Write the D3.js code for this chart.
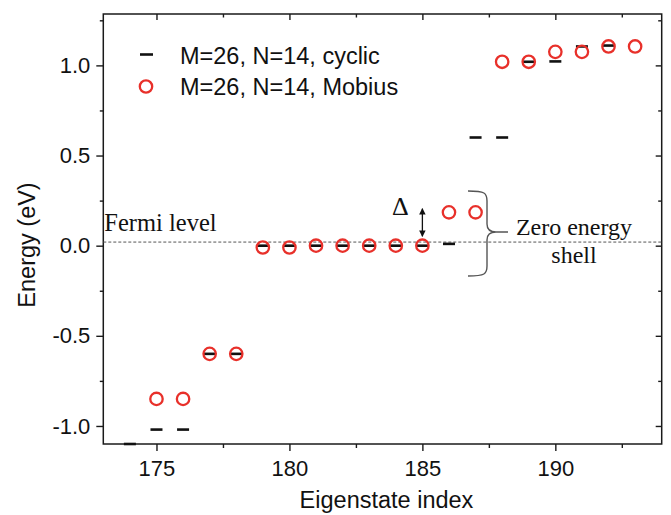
<!DOCTYPE html>
<html>
<head>
<meta charset="utf-8">
<script src="https://cdn.jsdelivr.net/npm/d3@7/dist/d3.min.js"></script>
<style>
  html, body { margin: 0; padding: 0; background: #fff; }
  svg { display: block; }
  .sans { font-family: "Liberation Sans", Arial, Helvetica, sans-serif; }
  .serif { font-family: "Liberation Serif", "Times New Roman", serif; }
</style>
</head>
<body>
<svg id="chart" width="671" height="515"></svg>
<script>
// Eigenstate energies around the Fermi level (eV)
const cyclicIndex  = [174, 175, 176, 177, 178, 179, 180, 181, 182, 183, 184, 185, 186, 187, 188, 189, 190, 191, 192];
const cyclicEnergy = [-1.10, -1.02, -1.02, -0.60, -0.60, 0.00, 0.00, 0.00, 0.00, 0.00, 0.00, 0.00, 0.01, 0.60, 0.60, 1.02, 1.022, 1.105, 1.11];

const mobiusIndex  = [175, 176, 177, 178, 179, 180, 181, 182, 183, 184, 185, 186, 187, 188, 189, 190, 191, 192, 193];
const mobiusEnergy = [-0.85, -0.85, -0.60, -0.60, -0.01, -0.01, 0.00, 0.00, 0.00, 0.00, 0.00, 0.185, 0.185, 1.02, 1.02, 1.075, 1.075, 1.105, 1.105];

const xMajorTicks = [175, 180, 185, 190];
const xMinorTicks = [177.5, 182.5, 187.5, 192.5];
const yMajorTicks = [-1.0, -0.5, 0.0, 0.5, 1.0];
const yMinorTicks = [-0.75, -0.25, 0.25, 0.75, 1.25];

const legendLabels = ["M=26, N=14, cyclic", "M=26, N=14, Mobius"];
const fermiLevel = 0.02;

const svg = d3.select("#chart");
const plot = { left: 103.3, right: 661.7, top: 14, bottom: 444 };

const x = d3.scaleLinear().domain([173, 194]).range([plot.left, plot.right]);
const y = d3.scaleLinear().domain([-1.1, 1.285]).range([plot.bottom, plot.top]);

const axisColor = "#1a1a1a";
const red = "#e8302a";

// Plain hyphen for negative tick labels
const fmtY = d => d3.format(".1f")(d).replace("\u2212", "-");

// Axes with major/minor ticks (outer on bottom/left, inner on top/right)
function styleAxis(g) {
  g.select(".domain").remove();
  g.selectAll(".tick line").attr("stroke", axisColor).attr("stroke-width", 1.4);
  g.selectAll(".tick text")
    .attr("fill", "#111")
    .attr("class", "sans")
    .style("font-size", "22px");
}

svg.append("g").attr("transform", `translate(0,${plot.bottom})`)
  .call(d3.axisBottom(x).tickValues(xMajorTicks).tickSize(7).tickPadding(9).tickFormat(d3.format("d")))
  .call(styleAxis);
svg.append("g").attr("transform", `translate(0,${plot.bottom})`)
  .call(d3.axisBottom(x).tickValues(xMinorTicks).tickSize(4).tickFormat(""))
  .call(styleAxis);
svg.append("g").attr("transform", `translate(0,${plot.top})`)
  .call(d3.axisTop(x).tickValues(xMajorTicks).tickSize(-6).tickFormat(""))
  .call(styleAxis);
svg.append("g").attr("transform", `translate(0,${plot.top})`)
  .call(d3.axisTop(x).tickValues(xMinorTicks).tickSize(-3.5).tickFormat(""))
  .call(styleAxis);

svg.append("g").attr("transform", `translate(${plot.left},0)`)
  .call(d3.axisLeft(y).tickValues(yMajorTicks).tickSize(7).tickPadding(6).tickFormat(fmtY))
  .call(styleAxis);
svg.append("g").attr("transform", `translate(${plot.left},0)`)
  .call(d3.axisLeft(y).tickValues(yMinorTicks).tickSize(3.5).tickFormat(""))
  .call(styleAxis);
svg.append("g").attr("transform", `translate(${plot.right},0)`)
  .call(d3.axisRight(y).tickValues(yMajorTicks).tickSize(-6).tickFormat(""))
  .call(styleAxis);
svg.append("g").attr("transform", `translate(${plot.right},0)`)
  .call(d3.axisRight(y).tickValues(yMinorTicks).tickSize(-3.5).tickFormat(""))
  .call(styleAxis);

// Frame
svg.append("rect")
  .attr("x", plot.left).attr("y", plot.top)
  .attr("width", plot.right - plot.left).attr("height", plot.bottom - plot.top)
  .attr("fill", "none").attr("stroke", axisColor).attr("stroke-width", 1.5);

// Fermi level
svg.append("line")
  .attr("x1", plot.left).attr("x2", plot.right)
  .attr("y1", y(fermiLevel)).attr("y2", y(fermiLevel))
  .attr("stroke", "#555").attr("stroke-width", 1)
  .attr("stroke-dasharray", "3,2");

svg.append("text").attr("class", "serif")
  .attr("x", plot.left + 1).attr("y", 231)
  .style("font-size", "24.5px").attr("fill", "#111")
  .text("Fermi level");

// Cyclic levels: short horizontal dashes
const dashHalf = 6;
svg.append("g").selectAll("line")
  .data(cyclicIndex.map((d, i) => ({ i: d, e: cyclicEnergy[i] })))
  .join("line")
  .attr("x1", d => x(d.i) - dashHalf).attr("x2", d => x(d.i) + dashHalf)
  .attr("y1", d => y(d.e)).attr("y2", d => y(d.e))
  .attr("stroke", "#111").attr("stroke-width", 2.6);

// Mobius levels: open red circles
svg.append("g").selectAll("circle")
  .data(mobiusIndex.map((d, i) => ({ i: d, e: mobiusEnergy[i] })))
  .join("circle")
  .attr("cx", d => x(d.i)).attr("cy", d => y(d.e))
  .attr("r", 6.2)
  .attr("fill", "none").attr("stroke", red).attr("stroke-width", 2.3);

// Gap annotation: double arrow and Delta
const arrowX = x(185);
const defs = svg.append("defs");
defs.append("marker").attr("id", "head")
  .attr("viewBox", "0 0 10 10").attr("refX", 9).attr("refY", 5)
  .attr("markerWidth", 5).attr("markerHeight", 5)
  .attr("orient", "auto-start-reverse")
  .append("path").attr("d", "M0,0 L10,5 L0,10 z").attr("fill", "#111");

svg.append("line")
  .attr("x1", arrowX).attr("x2", arrowX)
  .attr("y1", y(0.205)).attr("y2", y(0.052))
  .attr("stroke", "#111").attr("stroke-width", 1.3)
  .attr("marker-start", "url(#head)").attr("marker-end", "url(#head)");

svg.append("text").attr("class", "serif")
  .attr("x", arrowX - 22).attr("y", 215)
  .attr("text-anchor", "middle")
  .style("font-size", "26px").attr("fill", "#111")
  .text("Δ");

// Curly brace grouping the zero energy shell
const bx0 = 468, bx1 = 487, tip = 508;
const by0 = 191, byc = 232, by1 = 276;
const brace = d3.path();
brace.moveTo(bx0, by0);
brace.bezierCurveTo(bx1 - 2, by0, bx1, by0 + 2, bx1, by0 + 10);
brace.lineTo(bx1, byc - 8);
brace.bezierCurveTo(bx1, byc - 2, bx1 + 3, byc, bx1 + 9, byc);
brace.lineTo(tip, byc);
brace.moveTo(bx1 + 9, byc);
brace.bezierCurveTo(bx1 + 3, byc, bx1, byc + 2, bx1, byc + 8);
brace.lineTo(bx1, by1 - 10);
brace.bezierCurveTo(bx1, by1 - 2, bx1 - 2, by1, bx0, by1);
svg.append("path").attr("d", brace.toString())
  .attr("fill", "none").attr("stroke", "#555").attr("stroke-width", 1.4);

svg.append("text").attr("class", "serif")
  .attr("x", 574).attr("y", 235).attr("text-anchor", "middle")
  .style("font-size", "24px").attr("fill", "#111")
  .text("Zero energy");
svg.append("text").attr("class", "serif")
  .attr("x", 574).attr("y", 263).attr("text-anchor", "middle")
  .style("font-size", "24px").attr("fill", "#111")
  .text("shell");

// Legend
const lg = svg.append("g");
lg.append("line")
  .attr("x1", 140).attr("x2", 153).attr("y1", 54.5).attr("y2", 54.5)
  .attr("stroke", "#111").attr("stroke-width", 2.6);
lg.append("circle")
  .attr("cx", 146).attr("cy", 86.5).attr("r", 6.2)
  .attr("fill", "none").attr("stroke", red).attr("stroke-width", 2.3);
lg.selectAll("text").data(legendLabels).join("text")
  .attr("class", "sans")
  .attr("x", 180).attr("y", (d, i) => 63.5 + i * 31.5)
  .style("font-size", "23.5px").attr("fill", "#111")
  .text(d => d);

// Axis titles
svg.append("text").attr("class", "sans")
  .attr("x", (plot.left + plot.right) / 2 + 4).attr("y", 508)
  .attr("text-anchor", "middle")
  .style("font-size", "23.5px").attr("fill", "#111")
  .text("Eigenstate index");
svg.append("text").attr("class", "sans")
  .attr("transform", `translate(35,${(plot.top + plot.bottom) / 2 + 16}) rotate(-90)`)
  .attr("text-anchor", "middle")
  .style("font-size", "23.5px").attr("fill", "#111")
  .text("Energy (eV)");
</script>
</body>
</html>
